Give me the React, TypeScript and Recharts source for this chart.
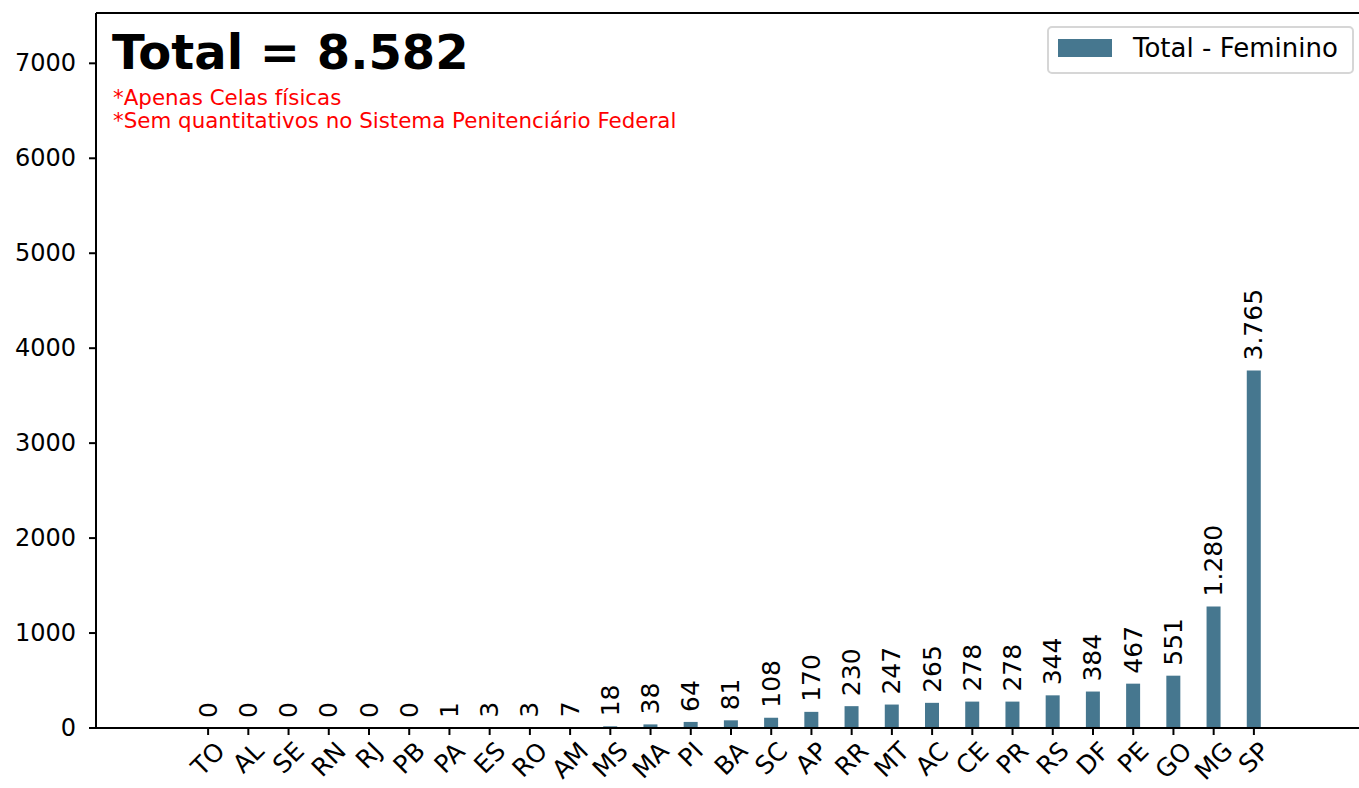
import { ComposedChart, Bar, Line, XAxis, YAxis, LabelList, ReferenceLine } from "recharts";

const states = ["TO", "AL", "SE", "RN", "RJ", "PB", "PA", "ES", "RO", "AM", "MS", "MA", "PI", "BA", "SC", "AP", "RR", "MT", "AC", "CE", "PR", "RS", "DF", "PE", "GO", "MG", "SP"];
const feminino = [0, 0, 0, 0, 0, 0, 1, 3, 3, 7, 18, 38, 64, 81, 108, 170, 230, 247, 265, 278, 278, 344, 384, 467, 551, 1280, 3765];
const yTicks = [0, 1000, 2000, 3000, 4000, 5000, 6000, 7000];
const notes = ["*Apenas Celas físicas", "*Sem quantitativos no Sistema Penitenciário Federal"];

const data = states.map((uf, i) => ({ uf, total: feminino[i] }));
const total = feminino.reduce((a, b) => a + b, 0);

const FONT = "DejaVu Sans";
const BAR = "#46778f";
const FS = 24;
const fmt = (v: number) => String(v).replace(/\B(?=(\d{3})+(?!\d))/g, ".");

// rough glyph widths (em) of DejaVu Sans capitals, for the rotated tick boxes
const W: Record<string, number> = { T: 0.611, O: 0.787, A: 0.684, L: 0.557, S: 0.635, E: 0.632, R: 0.695, N: 0.748, J: 0.295, P: 0.603, B: 0.686, M: 0.863, I: 0.295, C: 0.698, D: 0.77, G: 0.775, F: 0.575 };

const XTick = (props: any) => {
  const { x, payload } = props;
  const fs = 25;
  const w = payload.value.split("").reduce((s: number, c: string) => s + (W[c] || 0.7), 0) * fs;
  const h = 0.75 * fs;
  const cy = 740 + (w + h) / (2 * Math.SQRT2);
  return (
    <text x={x} y={cy} transform={`rotate(-45, ${x}, ${cy})`} textAnchor="middle" dominantBaseline="central" fontSize={fs} fontFamily={FONT} fill="#000">
      {payload.value}
    </text>
  );
};

const YTick = (props: any) => {
  const { x, y, payload } = props;
  return (
    <text x={x} y={y} textAnchor="end" dominantBaseline="central" fontSize={FS} fontFamily={FONT} fill="#000">
      {payload.value}
    </text>
  );
};

const BarLabel = (props: any) => {
  const { x, y, width, value } = props;
  const cx = x + (width || 0) / 2;
  const ty = y - 10;
  return (
    <text x={cx} y={ty} transform={`rotate(-90, ${cx}, ${ty})`} textAnchor="start" dominantBaseline="central" fontSize={25} fontFamily={FONT} fill="#000">
      {fmt(value)}
    </text>
  );
};

export default function App() {
  return (
    <div style={{ position: "absolute", left: 0, top: 0, width: 1359, height: 788, overflow: "hidden", background: "#fff" }}>
      <ComposedChart width={1370} height={788} data={data} margin={{ top: 13, right: 4, left: 0, bottom: 0 }}>
        <XAxis
          dataKey="uf"
          interval={0}
          height={60}
          padding={{ left: 92, right: 92 }}
          tick={<XTick />}
          tickSize={7}
          axisLine={{ stroke: "#000", strokeWidth: 2 }}
          tickLine={{ stroke: "#000", strokeWidth: 2 }}
        />
        <YAxis
          width={96}
          domain={[0, 7530]}
          ticks={yTicks}
          allowDataOverflow
          tickSize={7}
          tickMargin={13}
          axisLine={{ stroke: "#000", strokeWidth: 2 }}
          tickLine={{ stroke: "#000", strokeWidth: 2 }}
          tick={<YTick />}
        />
        <ReferenceLine y={7530} stroke="#000" strokeWidth={2} />
        <Bar dataKey="total" name="Total - Feminino" fill={BAR} barSize={14} isAnimationActive={false} />
        <Line dataKey="total" stroke="none" dot={false} activeDot={false} legendType="none" isAnimationActive={false}>
          <LabelList dataKey="total" content={<BarLabel />} />
        </Line>
      </ComposedChart>
      <svg width={1359} height={788} style={{ position: "absolute", left: 0, top: 0, pointerEvents: "none" }}>
        <text x={112} y={68.5} fontSize={48} fontWeight="bold" fontFamily={FONT} fill="#000">
          Total = {fmt(total)}
        </text>
        {notes.map((n, i) => (
          <text key={n} x={113} y={105 + i * 23} fontSize={21.4} fontFamily={FONT} fill="#ff0000">
            {n}
          </text>
        ))}
      </svg>
      <div style={{ position: "absolute", left: 1047, top: 26, width: 307, height: 48, border: "2px solid #d6d6d6", borderRadius: 5, background: "#fff", boxSizing: "border-box", fontFamily: FONT }}>
        <div style={{ position: "absolute", left: 9, top: 11, width: 54, height: 18, background: BAR }} />
        <div style={{ position: "absolute", left: 84, top: 5, fontSize: 26, lineHeight: "30px", color: "#000", whiteSpace: "nowrap" }}>Total - Feminino</div>
      </div>
    </div>
  );
}
